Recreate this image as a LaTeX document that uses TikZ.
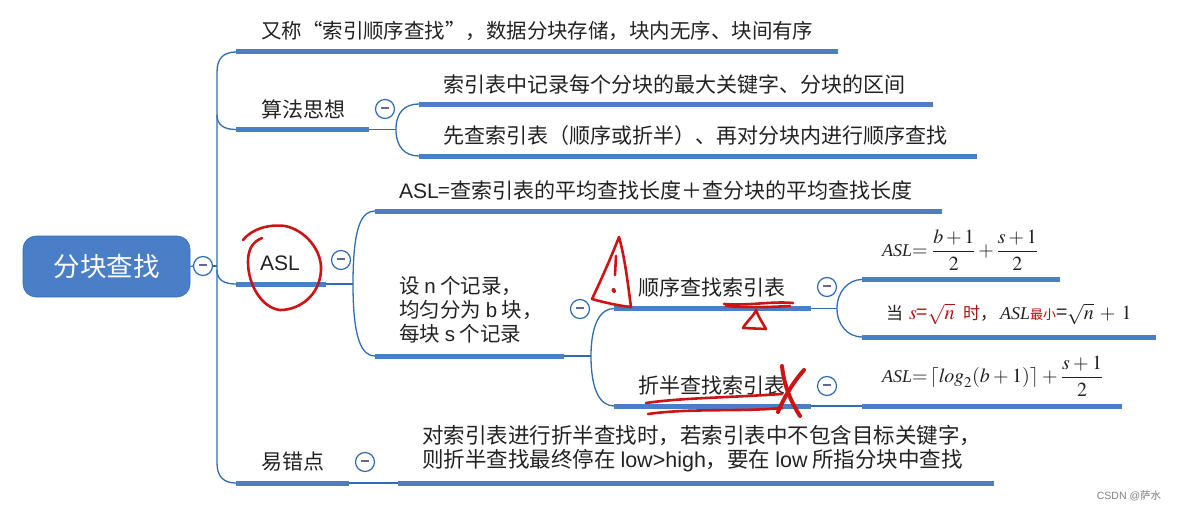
\documentclass[tikz,border=0pt]{standalone}
\usepackage{amsmath}
\usepackage{mathptmx}
\usepackage{fontspec}
\setmainfont{Noto Sans CJK SC}
\newfontfamily\latinf{Liberation Sans}
\newfontfamily\serf{Liberation Serif}
\definecolor{mapblue}{HTML}{4A7EC7}
\definecolor{linkblue}{HTML}{2F6DAF}
\definecolor{inkred}{HTML}{CC1414}
\definecolor{txt}{HTML}{222222}
\newcommand{\fsz}[1]{\fontsize{#1}{#1}\selectfont}
\newcommand{\aslt}{{\serf\itshape\fsz{18}ASL}}
\tikzset{
  barbox/.style={fill=mapblue,draw=none,inner sep=0pt,minimum height=5pt,rectangle,anchor=west},
  label/.style={text=txt,inner sep=0pt,anchor=west,font=\fsz{21}},
  mlabel/.style={text=txt,inner sep=0pt,anchor=west,font=\fsz{20}},
  minusbox/.style={circle,draw=linkblue,line width=1.2pt,fill=white,minimum size=19pt,inner sep=0pt},
  link/.style={draw=linkblue,line width=1.3pt},
  ink/.style={draw=inkred,line width=2.6pt,line cap=round,line join=round}
}
\newcommand{\mns}{\textcolor{gray!80!blue}{\rule[2pt]{8pt}{1.6pt}}}
\begin{document}
\begin{tikzpicture}[x=1pt,y=-1pt]
\useasboundingbox (0,0) rectangle (1178,511);
% root
\node[rectangle,rounded corners=13pt,fill=mapblue,draw=linkblue,line width=.6pt,minimum width=167pt,minimum height=61pt,text=white,font=\fsz{26.5}] (root) at (106.5,266.5) {分块查找};
\node[minusbox] (m0) at (203,266) {\mns};
\coordinate (trunk) at (217,266);
% bars
\node[barbox,minimum width=602pt] (b1) at (236,52) {};
\node[barbox,minimum width=133pt] (b2) at (236,129.5) {};
\node[barbox,minimum width=514pt] (b21) at (419,104) {};
\node[barbox,minimum width=558pt] (b22) at (419,156) {};
\node[barbox,minimum width=90pt] (b3) at (236,284) {};
\node[barbox,minimum width=567pt] (b31) at (375,211) {};
\node[barbox,minimum width=189pt] (b32) at (375,356) {};
\node[barbox,minimum width=197pt] (b321) at (614,308.5) {};
\node[barbox,minimum width=197pt] (b322) at (614,406) {};
\node[barbox,minimum width=198pt] (b3211) at (862,279.5) {};
\node[barbox,minimum width=294pt] (b3212) at (862,337) {};
\node[barbox,minimum width=260pt] (b3221) at (862,406) {};
\node[barbox,minimum width=113pt] (b4) at (236,483) {};
\node[barbox,minimum width=596pt] (b41) at (398,483) {};
% connectors
\draw[link] (root.east) -- (m0.west);
\draw[link] (m0.east) -- (trunk);
\draw[link] (b1.west) .. controls (224,52) and (217,58) .. (217,72) -- (217,463) .. controls (217,477) and (224,483) .. (b4.west);
\draw[link] (217,115) .. controls (217,125) and (224,129.5) .. (b2.west);
\draw[link] (217,270) .. controls (217,280) and (224,284) .. (b3.west);
\coordinate (j2) at (396,129.5);
\draw[link] (b2.east) -- (j2);
\draw[link] (b21.west) .. controls (405,104) and (396,112) .. (j2) .. controls (396,147) and (405,156) .. (b22.west);
\coordinate (j3) at (353,284);
\draw[link] (b3.east) -- (j3);
\draw[link] (b31.west) .. controls (362,211) and (353,225) .. (j3) .. controls (353,340) and (362,356) .. (b32.west);
\coordinate (j32) at (591,356);
\draw[link] (b32.east) -- (j32);
\draw[link] (b321.west) .. controls (600,308.5) and (591,325) .. (j32) .. controls (591,390) and (600,406) .. (b322.west);
\coordinate (j321) at (837,308.5);
\draw[link] (b321.east) -- (j321);
\draw[link] (b3211.west) .. controls (848,279.5) and (837,292) .. (j321) .. controls (837,325) and (848,337) .. (b3212.west);
\draw[link] (b322.east) -- (b3221.west);
\draw[link] (b4.east) -- (b41.west);
% minus buttons
\node[minusbox] (m2) at (385,109) {\mns};
\node[minusbox] (m3) at (341,260) {\mns};
\node[minusbox] (m32) at (580,309) {\mns};
\node[minusbox] (m321) at (827,287) {\mns};
\node[minusbox] (m322) at (827,386) {\mns};
\node[minusbox] (m4) at (365,462) {\mns};
% labels
\node[label,font=\fsz{20.45}] (t1) at (261,31) {又称“索引顺序查找”，数据分块存储，块内无序、块间有序};
\node[label] (t2) at (261,109) {算法思想};
\node[label] (t21) at (443,84) {索引表中记录每个分块的最大关键字、分块的区间};
\node[label] (t22) at (443,136) {先查索引表（顺序或折半）、再对分块内进行顺序查找};
\node[label] (t3) at (260,263) {{\latinf ASL}};
\node[label] (t31) at (399,190) {{\latinf ASL}=查索引表的平均查找长度＋查分块的平均查找长度};
\node[label,align=left] (t32) at (399,310) {\fsz{20.5}设 {\latinf n} 个记录，\\[3pt]\fsz{20.5}均匀分为 {\latinf b} 块，\\[3pt]\fsz{20.5}每块 {\latinf s} 个记录};
\node[label] (t321) at (638,288) {顺序查找索引表};
\node[label] (t322) at (638,386) {折半查找索引表};
\node[mlabel] (t3211) at (882,250) {\aslt$=\dfrac{b+1}{2}+\dfrac{s+1}{2}$};
\node[mlabel] (t3212) at (886,314) {\fsz{17}当 \textcolor{inkred!85!black}{\fsz{20}\hspace{2pt}$s$=$\sqrt{n}$\hspace{4pt} \fsz{17}时}，\hspace{3pt}\aslt{\textcolor{inkred!85!black}{\fsz{13}最小}}\fsz{20}=$\sqrt{n}\mkern3mu+\mkern3mu1$};
\node[mlabel] (t3221) at (882,376) {\medmuskip=3mu\thickmuskip=2mu\aslt$=\lceil \mathit{log}_2(b+1)\rceil+\dfrac{s+1}{2}$};
\node[label] (t4) at (261,462) {易错点};
\node[label,align=left] (t41) at (422,449) {\fsz{21.5}对索引表进行折半查找时，若索引表中不包含目标关键字，\\[3pt]\fsz{21.5}则折半查找最终停在 {\latinf low>high}，要在 {\latinf low} 所指分块中查找};
\node[text=gray,inner sep=0pt,font=\fsz{10.5}] (wm) at (1129,496) {{\latinf CSDN @}萨水};
% red handwriting
\draw[ink] (243,240) .. controls (252,229) and (268,224) .. (285,226) .. controls (305,230) and (322,250) .. (321,270) .. controls (320,295) and (300,310) .. (280,310) .. controls (262,308) and (248,285) .. (248,262) .. controls (248,250) and (252,242) .. (262,238);
\draw[ink] (619,237) .. controls (612,255) and (602,278) .. (592,299) .. controls (602,302) and (620,306) .. (631,307) .. controls (628,285) and (625,258) .. (619,237) -- cycle;
\draw[ink] (616,256) -- (615,275);
\draw[ink,line width=4pt] (613.5,290) -- (614,291);
\draw[ink] (724,304) .. controls (750,306) and (770,301) .. (793,303);
\draw[ink] (726,306) .. controls (750,308) and (770,307) .. (790,306);
\draw[ink] (756,310) .. controls (754,316) and (746,322) .. (743,328) -- (766,329) .. controls (762,322) and (758,316) .. (756,310);
\draw[ink] (646,403) .. controls (680,398) and (720,398) .. (782,394);
\draw[ink] (648,414) .. controls (690,408) and (740,412) .. (782,408);
\draw[ink,line width=4pt] (782,366) .. controls (784,385) and (790,400) .. (800,416);
\draw[ink,line width=4pt] (804,370) .. controls (795,380) and (785,395) .. (778,412);
\end{tikzpicture}
\end{document}
